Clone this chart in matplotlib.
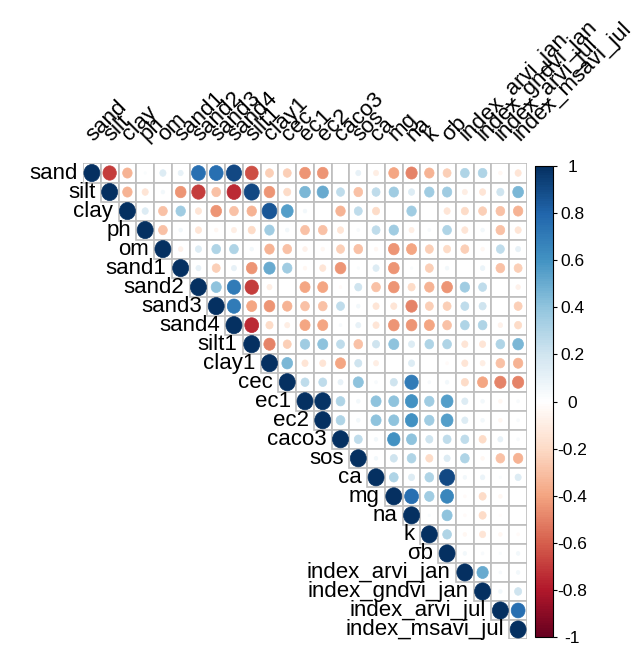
import numpy as np
import matplotlib
matplotlib.use("Agg")
import matplotlib.pyplot as plt
from matplotlib.colors import LinearSegmentedColormap, Normalize
from matplotlib.patches import Ellipse, Rectangle
import matplotlib.cm as cm

plt.rcParams['font.family'] = ['Liberation Sans', 'DejaVu Sans']

variables = ["sand", "silt", "clay", "ph", "om", "sand1", "sand2", "sand3", "sand4",
             "silt1", "clay1", "cec", "ec1", "ec2", "caco3", "sos", "ca", "mg", "na",
             "k", "σb", "index_arvi_jan", "index_gndvi_jan", "index_arvi_jul",
             "index_msavi_jul"]

# upper-triangle correlations, each row starts right after the diagonal
r_sand = [-0.7, -0.35, 0.02, 0.15, 0.1, 0.75, 0.75, 0.9, -0.65, -0.25, -0.25, -0.45, -0.45,
          0.0, 0.1, -0.1, -0.4, -0.5, -0.35, -0.25, 0.3, 0.3, -0.05, -0.15]
r_silt = [-0.35, -0.15, 0.05, -0.45, -0.7, -0.3, -0.75, 0.9, -0.45, -0.2, 0.45, 0.5,
          0.25, -0.3, 0.25, 0.35, 0.15, 0.35, 0.35, -0.1, -0.15, 0.2, 0.45]
r_clay = [0.15, -0.3, 0.35, -0.15, -0.45, -0.3, -0.35, 0.85, 0.55, 0.05, 0.0, -0.35,
          0.25, -0.2, 0.0, 0.35, 0.0, -0.15, -0.2, -0.25, -0.3, -0.35]
r_ph = [-0.3, 0.05, -0.15, -0.05, -0.1, -0.2, 0.35, 0.05, -0.3, -0.3, -0.15, 0.03,
        0.25, 0.35, -0.1, 0.03, 0.3, -0.15, 0.05, -0.3, -0.15]
r_om = [-0.08, 0.15, 0.3, 0.3, 0.05, -0.35, -0.3, -0.08, -0.05, -0.25, -0.3, -0.05,
        -0.45, -0.4, -0.25, -0.2, -0.25, -0.05, 0.25, 0.1]
r_sand1 = [0.1, -0.25, 0.1, -0.45, 0.5, 0.35, -0.05, -0.15, -0.45, 0.02, 0.15, -0.45,
           0.02, -0.25, 0.05, 0.0, 0.08, -0.3, -0.25]
r_sand2 = [0.4, 0.7, -0.7, -0.1, 0.0, -0.4, -0.4, -0.03, 0.2, -0.3, -0.45, -0.2, -0.35,
           -0.45, 0.35, 0.25, 0.0, -0.08]
r_sand3 = [0.7, -0.4, -0.45, -0.35, -0.3, -0.3, 0.25, 0.05, -0.15, -0.15, -0.5, -0.25,
           -0.25, 0.25, 0.2, 0.0, -0.25]
r_sand4 = [-0.75, -0.2, -0.1, -0.4, -0.4, 0.03, 0.1, -0.15, -0.45, -0.45, -0.4, -0.3,
           0.3, 0.3, -0.08, -0.2]
r_silt1 = [-0.5, -0.25, 0.35, 0.4, 0.25, -0.3, 0.2, 0.4, 0.15, 0.3, 0.3, -0.15, -0.15,
           0.3, 0.45]
r_clay1 = [0.45, -0.15, -0.15, -0.4, 0.2, -0.1, 0.0, 0.15, 0.0, -0.03, -0.15, -0.1,
           -0.3, -0.35]
r_cec = [0.25, 0.25, 0.1, 0.4, 0.03, 0.2, 0.7, 0.03, 0.05, -0.2, -0.4, -0.5, -0.5]
r_ec1 = [0.98, 0.3, 0.05, 0.4, 0.4, 0.6, 0.35, 0.55, 0.15, 0.05, -0.05, 0.03]
r_ec2 = [0.3, 0.05, 0.4, 0.4, 0.6, 0.35, 0.55, 0.15, 0.05, -0.05, 0.03]
r_caco3 = [0.25, 0.05, 0.6, 0.4, 0.2, 0.25, 0.25, -0.2, 0.1, 0.03]
r_sos = [0.05, 0.2, 0.3, -0.2, 0.15, 0.3, -0.05, -0.3, -0.35]
r_ca = [0.3, 0.15, 0.3, 0.9, 0.05, 0.08, 0.02, 0.15]
r_mg = [0.75, 0.35, 0.65, -0.03, -0.2, -0.05, 0.0]
r_na = [0.02, 0.4, -0.03, -0.2, -0.02, 0.0]
r_k = [0.3, -0.05, -0.15, -0.05, -0.03]
r_sb = [0.05, 0.03, 0.02, 0.05]
r_arvi_jan = [0.5, 0.03, 0.05]
r_gndvi_jan = [0.05, 0.2]
r_arvi_jul = [0.75]

rows = [r_sand, r_silt, r_clay, r_ph, r_om, r_sand1, r_sand2, r_sand3, r_sand4, r_silt1,
        r_clay1, r_cec, r_ec1, r_ec2, r_caco3, r_sos, r_ca, r_mg, r_na, r_k, r_sb,
        r_arvi_jan, r_gndvi_jan, r_arvi_jul, []]

n = len(variables)
corr = np.eye(n)
for i, vals in enumerate(rows):
    for k, v in enumerate(vals):
        j = i + 1 + k
        corr[i, j] = v
        corr[j, i] = v

cmap = LinearSegmentedColormap.from_list(
    "corrRdBu",
    ["#67001F", "#B2182B", "#D6604D", "#F4A582", "#FDDBC7", "#FFFFFF",
     "#D1E5F0", "#92C5DE", "#4393C3", "#2166AC", "#053061"], N=200)
norm = Normalize(-1, 1)

W, H = 641, 649
fig = plt.figure(figsize=(W / 100, H / 100), dpi=100)
gl, gr, gt, gb = 83, 527, 163.5, 639
ax = fig.add_axes([gl / W, 1 - gb / H, (gr - gl) / W, (gb - gt) / H])
ax.set_xlim(-0.5, n - 0.5)
ax.set_ylim(n - 0.5, -0.5)
ax.axis('off')

for i in range(n):
    for j in range(i, n):
        ax.add_patch(Rectangle((j - 0.5, i - 0.5), 1, 1, facecolor='white',
                               edgecolor='#BEBEBE', lw=1.2, zorder=1))
for i in range(n):
    for j in range(i, n):
        v = corr[i, j]
        d = 0.9 * np.sqrt(abs(v))
        if d > 0:
            ax.add_patch(Ellipse((j, i), d, d, facecolor=cmap(norm(v)),
                                 edgecolor=cmap(norm(v)), lw=0.5, zorder=2))

fs = 16
for i, name in enumerate(variables):
    ax.text(i - 0.5 - 0.3, i, name, ha='right', va='center', fontsize=fs,
            clip_on=False)
    ax.text(i + 0.1, -0.5 - 1.15, name, ha='left', va='baseline', rotation=45,
            rotation_mode='anchor', fontsize=fs, clip_on=False)

cax = fig.add_axes([535 / W, 1 - 637 / H, 18 / W, (637 - 166) / H])
sm = cm.ScalarMappable(norm=norm, cmap=cmap)
cb = fig.colorbar(sm, cax=cax)
ticks = [-1, -0.8, -0.6, -0.4, -0.2, 0, 0.2, 0.4, 0.6, 0.8, 1]
cb.set_ticks(ticks)
cb.set_ticklabels([("%g" % t) for t in ticks])
cb.outline.set_linewidth(0.8)
cax.tick_params(axis='y', length=3, width=0.8, pad=11, labelsize=12.5)
for lab in cax.get_yticklabels():
    lab.set_horizontalalignment('center')

fig.savefig("out.png", dpi=100)
